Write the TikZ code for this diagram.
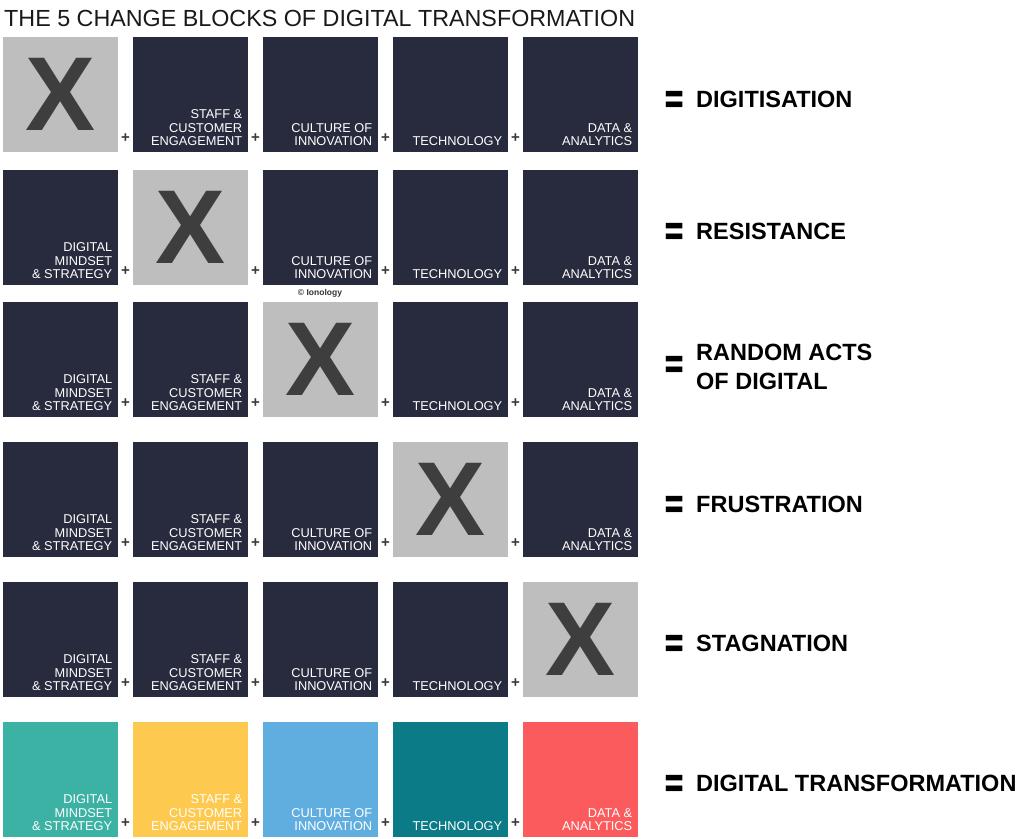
\documentclass[tikz,border=0pt]{standalone}
\usepackage{fontspec}
\usepackage{graphicx}
\setmainfont{Liberation Sans}
\newfontfamily\eqfont{DejaVu Sans}
\definecolor{darkbox}{HTML}{282B3D}
\definecolor{graybox}{HTML}{BEBEBE}
\definecolor{xcol}{HTML}{3E3E3E}
\definecolor{plusc}{HTML}{3A3A3A}
\definecolor{c1}{HTML}{3BB2A3}
\definecolor{c2}{HTML}{FDC94F}
\definecolor{c3}{HTML}{60AEDF}
\definecolor{c4}{HTML}{0B7B88}
\definecolor{c5}{HTML}{FB5B5C}
\expandafter\def\csname lbl1\endcsname{DIGITAL\\MINDSET\\\& STRATEGY}
\expandafter\def\csname lbl2\endcsname{STAFF \&\\CUSTOMER\\ENGAGEMENT}
\expandafter\def\csname lbl3\endcsname{CULTURE OF\\INNOVATION}
\expandafter\def\csname lbl4\endcsname{TECHNOLOGY}
\expandafter\def\csname lbl5\endcsname{DATA \&\\ANALYTICS}
\newcommand{\eqglyph}{\scalebox{1.1}[2.0]{=}}
\begin{document}
\begin{tikzpicture}[x=1pt,y=-1pt,
  block/.style={draw=none,minimum width=115pt,minimum height=115pt,inner sep=0pt,anchor=north west},
  blocklabel/.style={anchor=south east,inner sep=0pt,text depth=0pt,align=right,text=white,
    font=\fontsize{12.8}{13.2}\selectfont},
  xmark/.style={text=xcol,font=\fontsize{105}{105}\selectfont\bfseries,inner sep=0pt},
  plus/.style={text=plusc,font=\fontsize{15}{15}\selectfont\bfseries,inner sep=0pt},
  result/.style={inner sep=0pt,font=\fontsize{23.5}{29}\selectfont\bfseries,text=black,align=left},
  eqsign/.style={inner sep=0pt,anchor=center,yshift=-5pt,font=\eqfont\fontsize{24}{24}\selectfont\bfseries,text=black},
  titletext/.style={inner sep=0pt,font=\fontsize{23.3}{23.3}\selectfont,text=black!90}]
\path[fill=white] (0,0) rectangle (1024,838);
\node[titletext,anchor=base west] (title) at (4,26) {THE 5 CHANGE BLOCKS OF DIGITAL TRANSFORMATION};
\foreach \r/\t in {1/37,2/170,3/302,4/442,5/582,6/722} {
  \foreach \c/\x in {1/3,2/133,3/263,4/393,5/523} {
    \ifnum\r=\c
      \node[block,fill=graybox] (b\r\c) at (\x,\t) {};
      \node[xmark] (x\r) at (b\r\c.center) {X};
    \else
      \ifnum\r=6
        \node[block,fill=c\c] (b\r\c) at (\x,\t) {};
      \else
        \node[block,fill=darkbox] (b\r\c) at (\x,\t) {};
      \fi
      \node[blocklabel,xshift=-6pt,yshift=7pt] (l\r\c) at (b\r\c.south east) {\csname lbl\c\endcsname};
    \fi
    \ifnum\c<5
      \node[plus] (p\r\c) at (\x+122.5,\t+101) {+};
    \fi
  }
}
\node[inner sep=0pt,text=black!80,font=\fontsize{8.5}{8.5}\selectfont\bfseries] (copy) at (320,293) {© Ionology};
% results
\node[eqsign] (e1) at (675,98) {\eqglyph};
\node[result,anchor=base west] (r1) at (696,107) {DIGITISATION};
\node[eqsign] (e2) at (675,230) {\eqglyph};
\node[result,anchor=base west] (r2) at (696,239) {RESISTANCE};
\node[eqsign] (e3) at (675,363) {\eqglyph};
\node[result,anchor=west,text depth=0pt] (r3) at (696,367) {RANDOM ACTS\\OF DIGITAL};
\node[eqsign] (e4) at (675,503) {\eqglyph};
\node[result,anchor=base west] (r4) at (696,512) {FRUSTRATION};
\node[eqsign] (e5) at (675,642) {\eqglyph};
\node[result,anchor=base west] (r5) at (696,651) {STAGNATION};
\node[eqsign] (e6) at (675,782) {\eqglyph};
\node[result,anchor=base west] (r6) at (696,791) {DIGITAL TRANSFORMATION};
\end{tikzpicture}
\end{document}
